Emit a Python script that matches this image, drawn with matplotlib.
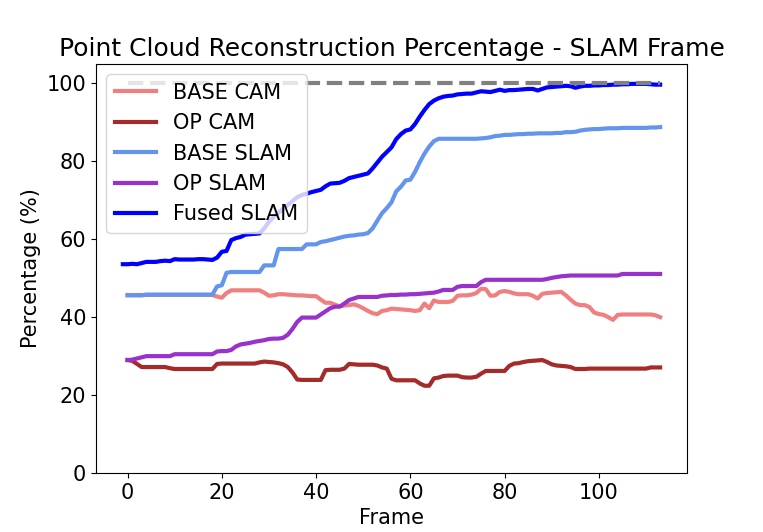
import numpy as np
import matplotlib
matplotlib.use("Agg")
import matplotlib.pyplot as plt

# frames 0..113 for most series, fused one starts at -1
frames = np.arange(0, 114)
fused_frames = np.arange(-1, 114)

base_cam = [
    45.7, 45.7, 45.7, 45.7, 45.7, 45.7, 45.7, 45.7, 45.7, 45.7,
    45.7, 45.7, 45.7, 45.7, 45.7, 45.7, 45.7, 45.7, 45.7, 45.3,
    45.0, 46.2, 46.9, 46.9, 46.9, 46.9, 46.9, 46.9, 46.9, 46.3,
    45.5, 45.6, 45.9, 45.9, 45.8, 45.7, 45.6, 45.6, 45.5, 45.4,
    45.4, 44.5, 43.7, 43.7, 43.2, 42.8, 43.0, 43.1, 43.3, 42.9,
    42.3, 41.6, 41.0, 40.8, 41.6, 41.8, 42.2, 42.1, 42.0, 41.9,
    41.8, 41.6, 41.8, 43.5, 42.3, 44.3, 43.9, 43.9, 43.9, 44.2,
    45.5, 45.6, 45.6, 45.8, 46.2, 47.3, 47.2, 45.5, 45.6, 46.5,
    46.7, 46.5, 46.1, 45.9, 45.9, 45.9, 45.5, 44.8, 46.0, 46.2,
    46.3, 46.4, 46.5, 45.6, 44.5, 43.5, 43.1, 43.1, 42.6, 41.2,
    40.8, 40.6, 40.0, 39.3, 40.6, 40.7, 40.7, 40.7, 40.7, 40.7,
    40.7, 40.7, 40.5, 40.0,
]

op_cam = [
    29.0, 28.8, 28.0, 27.2, 27.2, 27.2, 27.2, 27.2, 27.2, 26.9,
    26.7, 26.7, 26.7, 26.7, 26.7, 26.7, 26.7, 26.7, 26.7, 28.0,
    28.1, 28.1, 28.1, 28.1, 28.1, 28.1, 28.1, 28.1, 28.4, 28.6,
    28.5, 28.4, 28.2, 27.9, 27.2, 25.8, 24.0, 23.9, 23.9, 23.9,
    23.9, 23.9, 26.4, 26.5, 26.5, 26.5, 26.8, 28.0, 27.9, 27.8,
    27.8, 27.8, 27.8, 27.6, 27.1, 26.8, 24.2, 23.8, 23.8, 23.8,
    23.8, 23.8, 23.0, 22.4, 22.4, 24.3, 24.5, 24.9, 25.0, 25.0,
    25.0, 24.6, 24.5, 24.5, 24.7, 25.5, 26.2, 26.2, 26.2, 26.2,
    26.2, 27.5, 28.1, 28.2, 28.5, 28.7, 28.8, 28.9, 29.0, 28.5,
    27.9, 27.6, 27.5, 27.4, 27.2, 26.7, 26.7, 26.7, 26.8, 26.8,
    26.8, 26.8, 26.8, 26.8, 26.8, 26.8, 26.8, 26.8, 26.8, 26.8,
    26.8, 27.1, 27.1, 27.1,
]

base_slam = [
    45.6, 45.6, 45.6, 45.6, 45.8, 45.8, 45.8, 45.8, 45.8, 45.8,
    45.8, 45.8, 45.8, 45.8, 45.8, 45.8, 45.8, 45.8, 45.8, 47.9,
    48.2, 51.4, 51.6, 51.6, 51.6, 51.6, 51.6, 51.6, 51.6, 53.3,
    53.3, 53.3, 57.5, 57.5, 57.5, 57.5, 57.5, 57.5, 58.7, 58.7,
    58.7, 59.3, 59.5, 59.8, 60.1, 60.4, 60.7, 60.9, 61.0, 61.2,
    61.3, 61.6, 62.8, 64.8, 66.7, 68.0, 69.5, 72.3, 73.5, 75.1,
    75.3, 77.3, 79.8, 82.0, 83.8, 85.2, 85.8, 85.8, 85.8, 85.8,
    85.8, 85.8, 85.8, 85.8, 85.8, 85.9, 86.0, 86.2, 86.5, 86.6,
    86.8, 86.8, 86.9, 87.0, 87.0, 87.1, 87.1, 87.2, 87.2, 87.2,
    87.2, 87.3, 87.3, 87.5, 87.5, 87.6, 87.9, 88.1, 88.2, 88.3,
    88.3, 88.4, 88.5, 88.5, 88.5, 88.6, 88.6, 88.6, 88.6, 88.6,
    88.6, 88.7, 88.7, 88.8,
]

op_slam = [
    29.0, 29.1, 29.4, 29.7, 30.0, 30.0, 30.0, 30.0, 30.0, 30.0,
    30.5, 30.5, 30.5, 30.5, 30.5, 30.5, 30.5, 30.5, 30.5, 31.2,
    31.3, 31.3, 31.6, 32.5, 33.0, 33.2, 33.4, 33.7, 33.9, 34.1,
    34.4, 34.5, 34.5, 34.7, 35.5, 37.0, 38.8, 39.9, 39.9, 39.9,
    39.9, 40.7, 41.5, 42.3, 42.7, 42.7, 43.5, 44.4, 44.8, 45.2,
    45.2, 45.2, 45.2, 45.2, 45.5, 45.6, 45.7, 45.7, 45.8, 45.8,
    45.9, 45.9, 46.0, 46.1, 46.2, 46.3, 46.6, 47.0, 47.0, 47.0,
    47.8, 48.0, 48.0, 48.0, 48.0, 49.0, 49.6, 49.6, 49.6, 49.6,
    49.6, 49.6, 49.6, 49.6, 49.6, 49.6, 49.6, 49.6, 49.6, 49.8,
    50.1, 50.3, 50.5, 50.6, 50.7, 50.7, 50.7, 50.7, 50.7, 50.7,
    50.7, 50.7, 50.7, 50.7, 50.7, 51.1, 51.1, 51.1, 51.1, 51.1,
    51.1, 51.1, 51.1, 51.1,
]

fused_slam = [
    53.6,
    53.6, 53.7, 53.6, 53.9, 54.2, 54.2, 54.2, 54.4, 54.5, 54.4,
    54.9, 54.8, 54.8, 54.8, 54.8, 54.9, 54.9, 54.8, 54.7, 55.3,
    56.8, 57.0, 59.8, 60.3, 60.6, 61.2, 61.3, 61.4, 61.5, 62.8,
    64.5, 65.7, 66.8, 67.8, 68.8, 69.8, 70.8, 71.4, 71.7, 72.1,
    72.4, 72.7, 73.6, 74.3, 74.4, 74.5, 75.0, 75.7, 76.0, 76.3,
    76.6, 76.9, 78.2, 79.7, 81.2, 82.4, 83.6, 85.7, 87.0, 87.9,
    88.2, 89.6, 91.5, 93.2, 94.7, 95.6, 96.2, 96.6, 96.8, 96.9,
    97.2, 97.3, 97.4, 97.4, 97.7, 98.0, 97.9, 97.8, 98.1, 98.4,
    98.1, 98.3, 98.3, 98.4, 98.5, 98.6, 98.6, 98.2, 98.6, 99.0,
    99.1, 99.2, 99.3, 99.4, 99.3, 98.9, 99.2, 99.4, 99.4, 99.5,
    99.5, 99.6, 99.6, 99.7, 99.7, 99.8, 99.8, 99.9, 99.9, 99.9,
    99.9, 99.8, 99.7, 99.7,
]

full_coverage = 100

fig = plt.figure(figsize=(7.63, 5.32), dpi=100)
ax = fig.add_axes([0.1258, 0.1109, 0.7746, 0.7688])

ax.plot(frames, base_cam, color='lightcoral', lw=3, label='BASE CAM')
ax.plot(frames, op_cam, color='brown', lw=3, label='OP CAM')
ax.plot(frames, base_slam, color='cornflowerblue', lw=3, label='BASE SLAM')
ax.plot(frames, op_slam, color='darkorchid', lw=3, label='OP SLAM')
ax.plot(fused_frames, fused_slam, color='blue', lw=3, label='Fused SLAM')
ax.plot(frames, [full_coverage] * len(frames), color='gray', lw=3, linestyle='--')

ax.set_ylim(0, 105)
ax.set_title('Point Cloud Reconstruction Percentage - SLAM Frame', fontsize=18)
ax.set_xlabel('Frame', fontsize=15)
ax.set_ylabel('Percentage (%)', fontsize=15)
ax.tick_params(labelsize=15)
ax.legend(loc='upper left', fontsize=15)

fig.savefig('out.png', dpi=100)
